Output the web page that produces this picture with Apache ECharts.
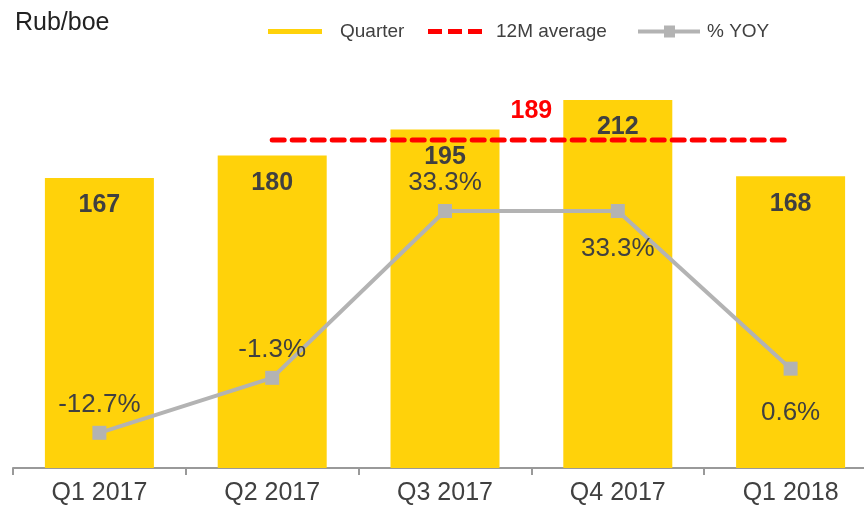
<!DOCTYPE html>
<html>
<head>
<meta charset="utf-8">
<script src="https://cdn.jsdelivr.net/npm/echarts@6/dist/echarts.min.js"></script>
<style>
  html, body { margin: 0; padding: 0; background: #fff; }
  #chart { width: 864px; height: 513px; }
</style>
</head>
<body>
<div id="chart"></div>
<script>
// data
const quarters = ['Q1 2017', 'Q2 2017', 'Q3 2017', 'Q4 2017', 'Q1 2018'];
const quarterValues = [167, 180, 195, 212, 168];
const avg12m = [null, 189, 189, 189, 189];
const avgLabel = 189;
const yoyValues = [-12.7, -1.3, 33.3, 33.3, 0.6];
// where each % label sits relative to its point
const yoyLabelPos = ['top', 'top', 'top', 'bottom', 'bottom'];
const yoyLabelDist = [8, 8, 8, 18, 24];

const chart = echarts.init(document.getElementById('chart'));
const font = 'Liberation Sans, Arial, sans-serif';
const textColor = '#404040';

const yoyData = yoyValues.map(function (v, i) {
    return {
        value: v,
        label: { position: yoyLabelPos[i], distance: yoyLabelDist[i] }
    };
});

function legendBox(name, icon, left, width, gap) {
    return {
        data: [{ name: name, icon: icon }],
        left: left,
        top: 17,
        itemWidth: width,
        itemHeight: 12,
        selectedMode: false,
        textStyle: { fontFamily: font, fontSize: 19, color: textColor, padding: [0, 0, 0, gap] }
    };
}

chart.setOption({
    backgroundColor: '#fff',
    animation: false,
    title: {
        text: 'Rub/boe',
        left: 10,
        top: 6,
        textStyle: { fontFamily: font, fontSize: 25, fontWeight: 'normal', color: '#222' }
    },
    legend: [
        legendBox('Quarter', 'path://M0,0H54V5H0Z', 263, 54, 13),
        legendBox('12M average', 'path://M0,0H14V5H0Z M20,0H34V5H20Z M40,0H54V5H40Z', 423, 54, 9),
        legendBox('% YOY', 'path://M0,4H62V8H0Z M26,0H37V12H26Z', 633, 62, 2)
    ],
    grid: { left: 13, right: -13, top: 34, bottom: 45, outerBoundsMode: 'none' },
    xAxis: {
        type: 'category',
        data: quarters,
        axisLine: { lineStyle: { color: '#999', width: 2 } },
        axisTick: { show: true, length: 7, lineStyle: { color: '#999', width: 2 } },
        axisLabel: { fontFamily: font, fontSize: 25, color: textColor, margin: 13 }
    },
    yAxis: [
        { type: 'value', min: 0, max: 250, show: false, splitLine: { show: false } },
        { type: 'value', min: -20, max: 70, show: false, splitLine: { show: false } }
    ],
    series: [
        {
            name: 'Quarter',
            type: 'bar',
            data: quarterValues,
            barWidth: 109,
            itemStyle: { color: '#FFD20A' },
            label: {
                show: true,
                position: 'insideTop',
                distance: 15,
                fontFamily: font,
                fontSize: 25,
                fontWeight: 'bold',
                color: textColor
            },
            z: 1
        },
        {
            name: '12M average',
            type: 'line',
            data: avg12m,
            symbol: 'none',
            lineStyle: { color: '#FF0000', width: 5, type: [12, 8], cap: 'round' },
            itemStyle: { color: '#FF0000' },
            markLine: {
                silent: true,
                symbol: 'none',
                lineStyle: { color: 'rgba(0,0,0,0)', width: 0 },
                label: {
                    show: true,
                    position: 'middle',
                    distance: 16,
                    formatter: String(avgLabel),
                    fontFamily: font,
                    fontSize: 25,
                    fontWeight: 'bold',
                    color: '#FF0000'
                },
                data: [[{ coord: ['Q2 2017', avgLabel] }, { coord: ['Q1 2018', avgLabel] }]]
            },
            z: 3
        },
        {
            name: '% YOY',
            type: 'line',
            yAxisIndex: 1,
            data: yoyData,
            symbol: 'rect',
            symbolSize: 14,
            lineStyle: { color: '#B3B3B3', width: 4 },
            itemStyle: { color: '#B3B3B3' },
            label: {
                show: true,
                formatter: function (p) { return p.value + '%'; },
                fontFamily: font,
                fontSize: 26,
                color: textColor
            },
            z: 4
        }
    ]
});
</script>
</body>
</html>
